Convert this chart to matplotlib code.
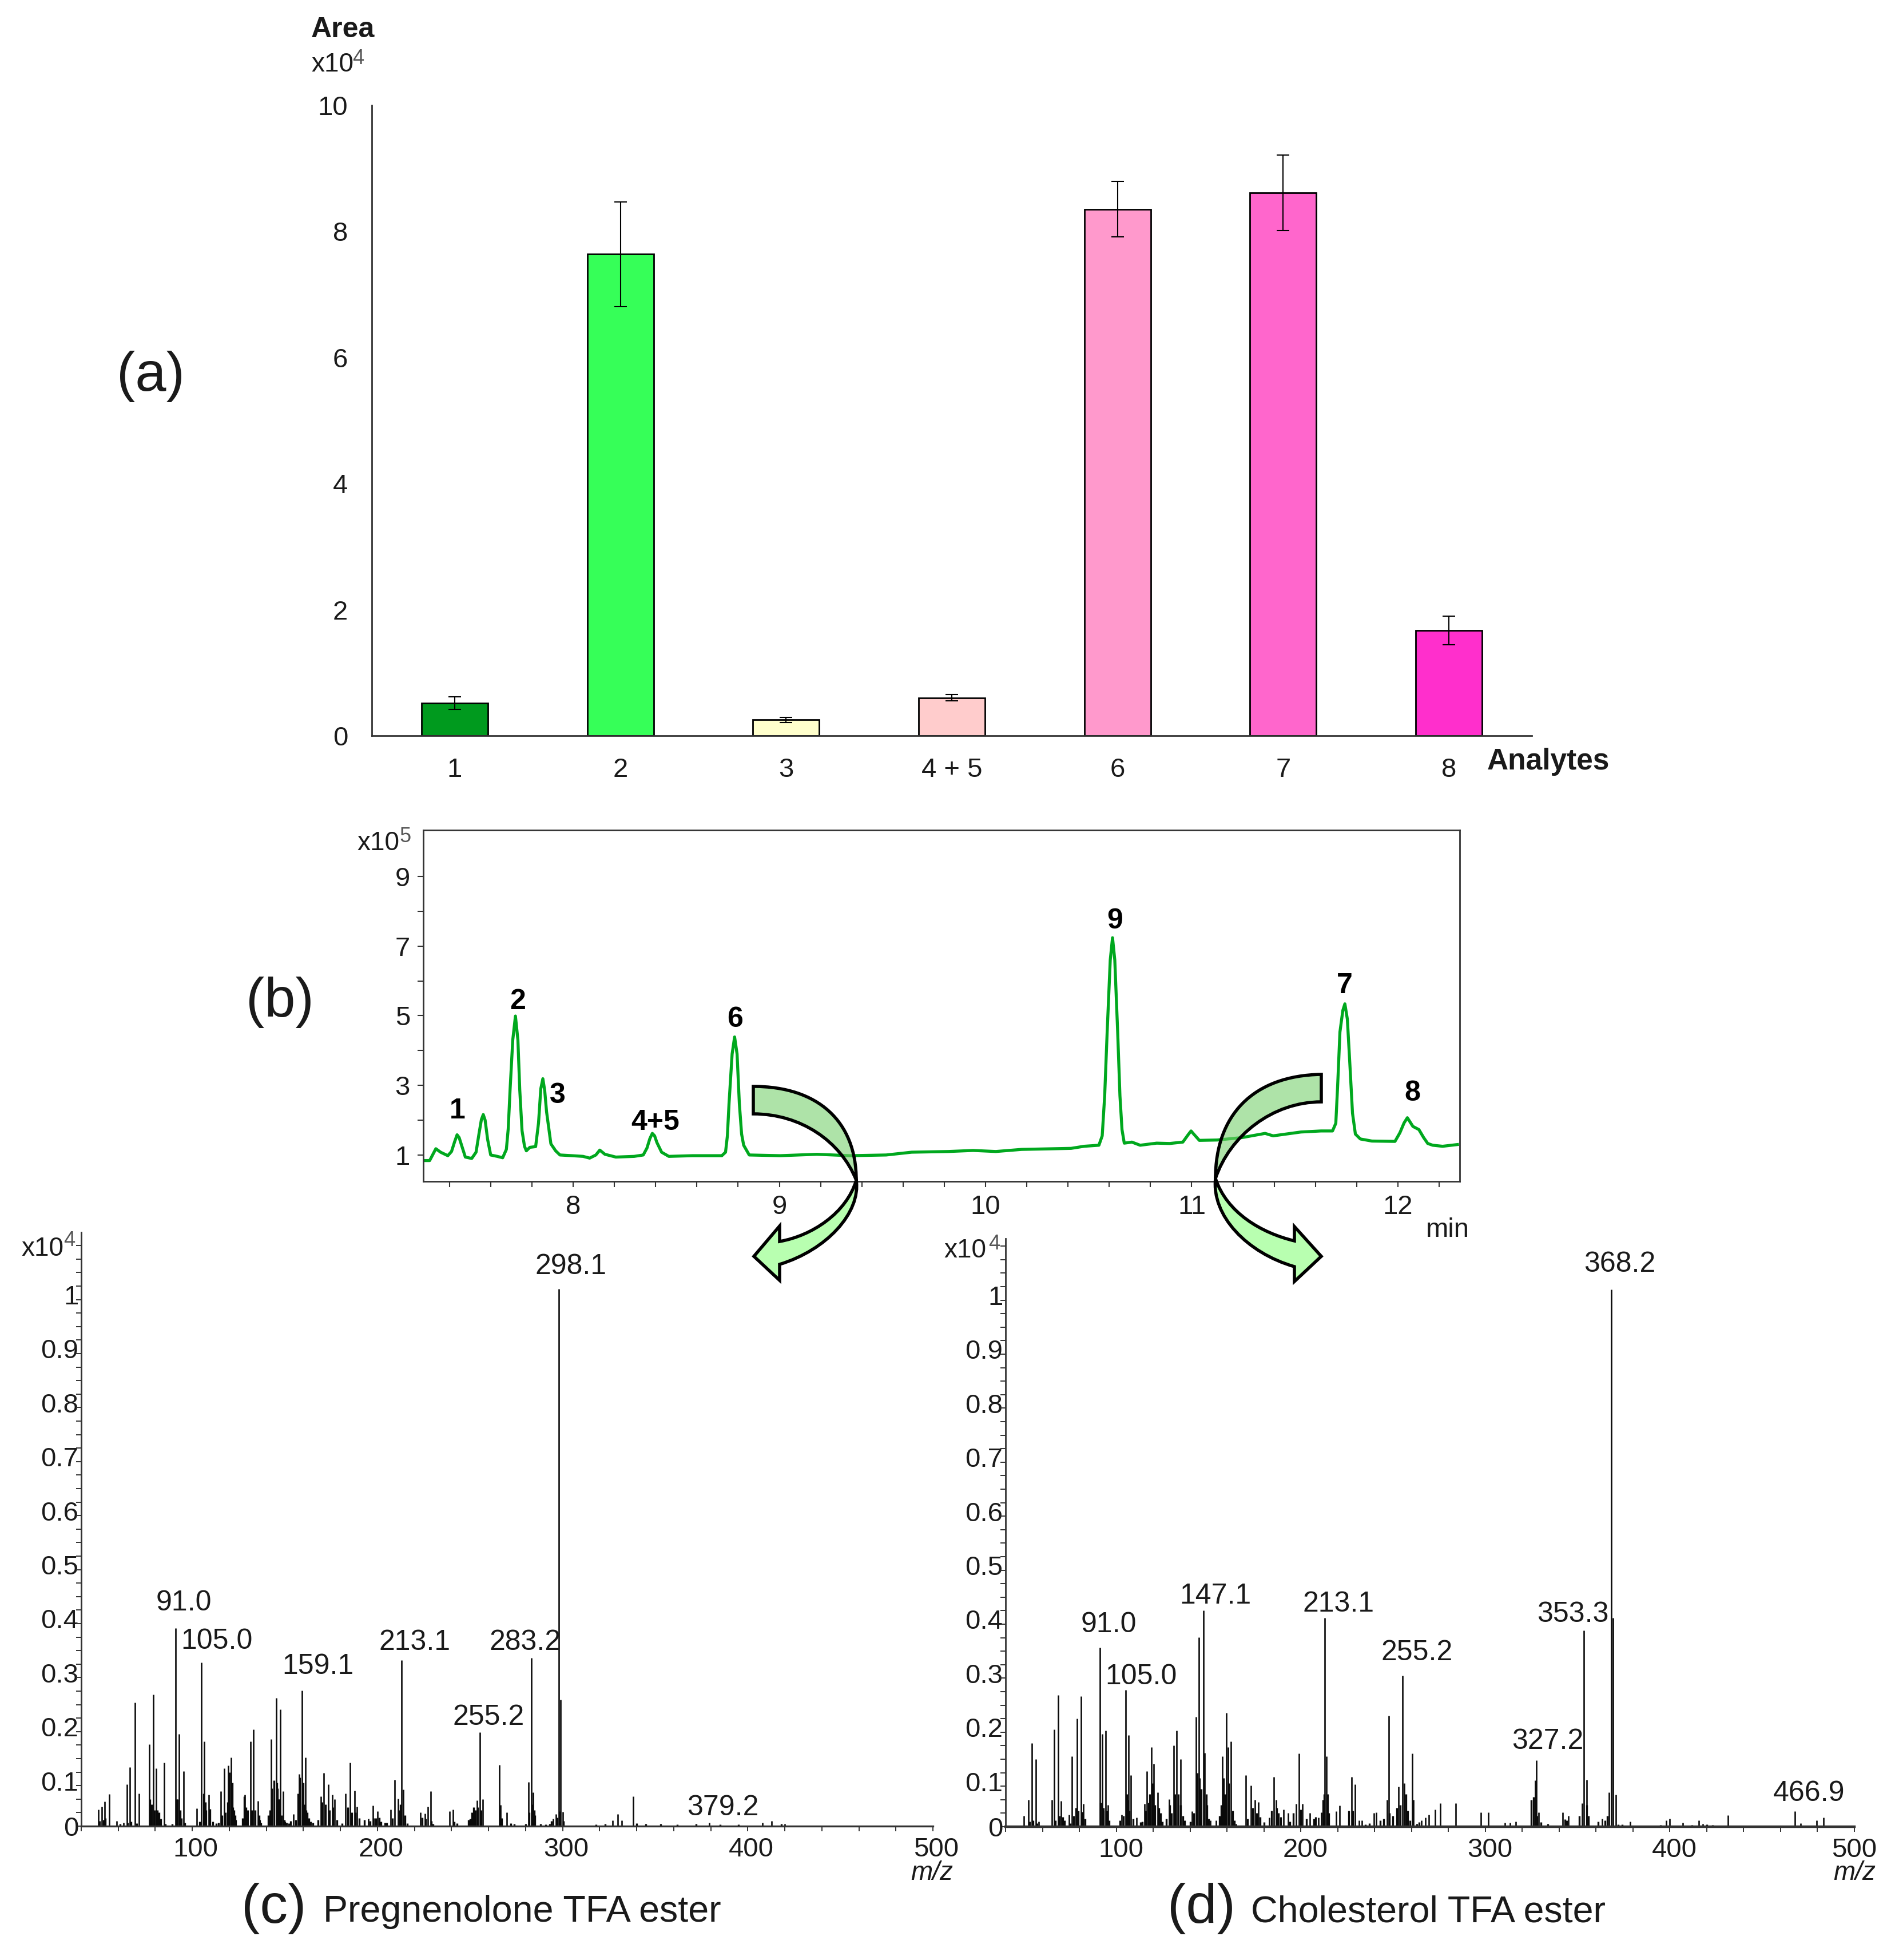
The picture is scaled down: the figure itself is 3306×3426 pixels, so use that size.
import numpy as np
import matplotlib
matplotlib.use("Agg")
import matplotlib.pyplot as plt
from matplotlib.path import Path
from matplotlib.patches import PathPatch
from matplotlib.transforms import ScaledTranslation

plt.rcParams["font.family"] = ["Liberation Sans", "DejaVu Sans"]

W, H = 3306, 3426

# (a) peak areas
analytes = ["1", "2", "3", "4 + 5", "6", "7", "8"]
areas = [0.52, 7.64, 0.25, 0.60, 8.35, 8.61, 1.67]
area_err = [0.10, 0.83, 0.04, 0.05, 0.44, 0.60, 0.23]
bar_colors = ["#009A1E", "#36FF58", "#FFFFCC", "#FFCCCC", "#FF99CC", "#FF66CC", "#FF2FCC"]

# (b) chromatogram
rt = [7.277, 7.304, 7.32, 7.334, 7.357, 7.392, 7.41, 7.425, 7.437, 7.447, 7.462, 7.477, 7.508, 7.529,
      7.543, 7.555, 7.564, 7.573, 7.585, 7.6, 7.632, 7.658, 7.676, 7.685, 7.694, 7.707, 7.72, 7.732,
      7.741, 7.752, 7.764, 7.773, 7.79, 7.818, 7.832, 7.843, 7.853, 7.862, 7.871, 7.892, 7.915, 7.936,
      7.995, 8.048, 8.08, 8.11, 8.129, 8.154, 8.207, 8.296, 8.34, 8.358, 8.372, 8.384, 8.395, 8.406,
      8.429, 8.464, 8.579, 8.721, 8.739, 8.748, 8.756, 8.771, 8.783, 8.795, 8.806, 8.817, 8.827, 8.854,
      9.004, 9.182, 9.341, 9.518, 9.642, 9.819, 9.94, 10.05, 10.175, 10.415, 10.478, 10.55, 10.566,
      10.578, 10.59, 10.605, 10.616, 10.627, 10.641, 10.652, 10.662, 10.673, 10.71, 10.75, 10.83, 10.893,
      10.957, 10.985, 10.997, 11.01, 11.037, 11.124, 11.244, 11.356, 11.395, 11.53, 11.627, 11.683,
      11.699, 11.708, 11.719, 11.733, 11.743, 11.755, 11.767, 11.78, 11.794, 11.818, 11.874, 11.986,
      12.01, 12.03, 12.046, 12.073, 12.102, 12.125, 12.145, 12.169, 12.217, 12.289]
signal = [0.84, 0.84, 1.02, 1.18, 1.08, 0.98, 1.10, 1.38, 1.58, 1.50, 1.22, 0.94, 0.90, 1.08,
          1.60, 2.02, 2.16, 2.00, 1.45, 1.00, 0.96, 0.92, 1.16, 1.75, 2.87, 4.30, 4.99, 4.30,
          2.87, 1.70, 1.25, 1.12, 1.22, 1.24, 1.92, 2.90, 3.19, 2.85, 2.24, 1.32, 1.12, 1.00,
          0.98, 0.96, 0.91, 1.00, 1.14, 1.02, 0.94, 0.96, 1.00, 1.20, 1.47, 1.62, 1.55, 1.36,
          1.08, 0.96, 0.98, 0.98, 1.08, 1.55, 2.48, 3.90, 4.39, 3.90, 2.48, 1.60, 1.28, 1.00,
          0.98, 1.02, 0.98, 1.00, 1.08, 1.10, 1.13, 1.10, 1.16, 1.19, 1.25, 1.28, 1.55,
          2.70, 4.53, 6.60, 7.24, 6.60, 4.53, 2.70, 1.73, 1.34, 1.37, 1.28, 1.34, 1.33,
          1.37, 1.60, 1.69, 1.60, 1.42, 1.43, 1.50, 1.62, 1.55, 1.66, 1.69, 1.69,
          1.91, 3.00, 4.53, 5.15, 5.34, 4.90, 3.63, 2.20, 1.60, 1.46, 1.40, 1.39,
          1.64, 1.92, 2.07, 1.82, 1.73, 1.50, 1.33, 1.28, 1.25, 1.30]
peak_names = ["1", "2", "3", "4+5", "6", "9", "7", "8"]

# (c) Pregnenolone TFA ester spectrum
c_mz = [49.3, 51, 52.6, 55.2, 59.3, 63, 64.7, 66.2, 68.9, 71.2, 76.9, 79, 80.6, 84.7, 91, 92.9, 95.3, 102.5,
        105, 106.5, 108.8, 115.3, 117.2, 119.4, 120.9, 128.5, 131.5, 133, 135.4, 142.6, 145.2, 147.6, 149.1,
        154.5, 157.8, 159.1, 161, 169.3, 171, 173.4, 175.6, 177, 182.7, 185.3, 187.7, 189, 195, 197.5, 200,
        207, 209.4, 211, 213.1, 214, 223.3, 225.7, 227.2, 228.7, 239, 240.9, 253.7, 255.2, 257, 265.8, 266.5,
        270, 281.6, 283.2, 284.2, 295, 296.5, 298.1, 299, 300, 327, 329.8, 332, 338, 379.2, 408, 413, 420]
c_int = [0.031, 0.036, 0.046, 0.059, 0.010, 0.006, 0.077, 0.109, 0.229, 0.060, 0.151, 0.244, 0.107, 0.118, 0.367,
         0.171, 0.102, 0.033, 0.303, 0.157, 0.058, 0.065, 0.107, 0.112, 0.127, 0.058, 0.157, 0.179, 0.047, 0.161,
         0.237, 0.216, 0.065, 0.022, 0.096, 0.251, 0.127, 0.055, 0.099, 0.077, 0.058, 0.050, 0.060, 0.118, 0.066,
         0.036, 0.014, 0.038, 0.028, 0.031, 0.086, 0.051, 0.307, 0.068, 0.025, 0.023, 0.036, 0.065, 0.028, 0.031,
         0.048, 0.174, 0.050, 0.113, 0.039, 0.025, 0.082, 0.311, 0.063, 0.014, 0.022, 0.995, 0.234, 0.026, 0.011,
         0.022, 0.011, 0.055, 0.006, 0.006, 0.010, 0.004]
c_low_mz = [50, 52, 53, 61, 65, 67, 70, 77, 78, 79.6, 81, 82, 83, 85.5, 89, 91.6, 92, 93.5, 94, 96, 104, 106, 107,
            107.5, 109.5, 111, 113, 114, 116, 118, 119, 120, 121.5, 122, 122.5, 123, 123.5, 127, 128, 129, 130, 132,
            134, 136, 136.5, 137, 141, 142, 143, 144, 145.8, 146, 146.5, 147, 148, 149.6, 150, 151, 152, 153, 156,
            157, 158, 159.7, 160, 160.5, 161.5, 162, 163, 164, 165, 168, 170, 172, 174, 176, 178, 181, 184, 186,
            188, 190, 193, 196, 198, 199, 201, 202, 204, 205, 208, 212, 212.5, 215, 216, 224, 226, 229, 230, 241.5,
            243, 249, 250, 251, 252, 253, 254, 256, 266, 267, 272, 274, 280, 282, 283.8, 284.8, 285, 288, 291, 293,
            294, 297, 298.6, 300.5, 318, 323, 340, 345, 353, 362, 372, 385, 395, 418]
c_low_int = [0.010, 0.012, 0.015, 0.004, 0.006, 0.008, 0.005, 0.050, 0.040, 0.030, 0.030, 0.025, 0.014, 0.004, 0.004,
             0.050, 0.050, 0.030, 0.015, 0.006, 0.008, 0.060, 0.045, 0.030, 0.032, 0.008, 0.005, 0.006, 0.020, 0.025,
             0.045, 0.100, 0.080, 0.035, 0.030, 0.020, 0.012, 0.015, 0.055, 0.035, 0.030, 0.030, 0.030, 0.020, 0.012,
             0.006, 0.020, 0.030, 0.070, 0.085, 0.080, 0.070, 0.050, 0.050, 0.020, 0.012, 0.008, 0.006, 0.005, 0.010,
             0.012, 0.060, 0.090, 0.045, 0.080, 0.040, 0.030, 0.025, 0.015, 0.008, 0.006, 0.012, 0.045, 0.040, 0.030,
             0.035, 0.012, 0.005, 0.035, 0.025, 0.025, 0.015, 0.012, 0.010, 0.015, 0.015, 0.016, 0.008, 0.006, 0.006,
             0.015, 0.030, 0.040, 0.020, 0.005, 0.016, 0.014, 0.010, 0.004, 0.008, 0.005, 0.012, 0.014, 0.025, 0.035,
             0.030, 0.035, 0.030, 0.030, 0.015, 0.005, 0.004, 0.004, 0.025, 0.040, 0.030, 0.020, 0.004, 0.003, 0.004,
             0.010, 0.016, 0.028, 0.010, 0.003, 0.004, 0.005, 0.004, 0.004, 0.003, 0.004, 0.003, 0.003, 0.004]
c_labels = [("91.0", 321, 2798), ("105.0", 379, 2865), ("159.1", 556, 2909), ("213.1", 725, 2867),
            ("283.2", 918, 2867), ("255.2", 854, 2998), ("298.1", 998, 2210), ("379.2", 1264, 3156)]

# (d) Cholesterol TFA ester spectrum
d_mz = [50, 52.3, 54.2, 56.4, 58, 65, 66.3, 68.5, 70, 74.5, 76.1, 78.7, 80.9, 82.2, 91, 92.4, 94.3, 95.5, 103,
        105, 106.7, 108, 111, 115.3, 116.5, 119, 120.4, 122.6, 128.6, 131.2, 132.8, 134.7, 141, 143.3, 144.9,
        147.1, 148, 151, 154, 157.6, 159.5, 160.5, 162, 165, 170.3, 172.9, 175, 177, 183, 185.3, 186.5, 190.7,
        193, 197.4, 199, 201, 205, 209.5, 211, 213.1, 213.8, 219.3, 221, 227.6, 229.5, 231.5, 233, 239.7, 241,
        246.7, 247.6, 253, 255.2, 256, 260.4, 261, 265.5, 267.5, 269.5, 272.8, 275.6, 283.9, 297.6, 301.7, 310.5,
        313.5, 316.5, 326.9, 327.5, 329, 342, 345, 352.3, 353.5, 354.8, 363.4, 367, 368.2, 369.2, 370.8, 378.4,
        398, 400, 407, 415.6, 418, 431.5, 467.8, 471, 479.5, 483.4]
d_int = [0.020, 0.050, 0.155, 0.125, 0.010, 0.050, 0.180, 0.244, 0.048, 0.022, 0.130, 0.200, 0.241, 0.042, 0.332,
         0.172, 0.178, 0.040, 0.022, 0.253, 0.169, 0.095, 0.017, 0.042, 0.103, 0.147, 0.116, 0.064, 0.051, 0.150,
         0.178, 0.125, 0.029, 0.203, 0.351, 0.400, 0.137, 0.012, 0.012, 0.130, 0.211, 0.147, 0.158, 0.005, 0.095,
         0.076, 0.050, 0.046, 0.017, 0.092, 0.050, 0.032, 0.025, 0.042, 0.136, 0.042, 0.025, 0.017, 0.027, 0.387,
         0.130, 0.029, 0.039, 0.092, 0.078, 0.012, 0.012, 0.025, 0.027, 0.050, 0.205, 0.074, 0.280, 0.080, 0.136,
         0.050, 0.012, 0.017, 0.022, 0.032, 0.043, 0.043, 0.026, 0.026, 0.007, 0.007, 0.010, 0.086, 0.123, 0.026,
         0.026, 0.020, 0.043, 0.363, 0.087, 0.015, 0.064, 0.995, 0.387, 0.059, 0.010, 0.012, 0.015, 0.007, 0.012,
         0.005, 0.021, 0.029, 0.006, 0.012, 0.017]
d_low_mz = [53, 55, 57, 67, 69, 71, 72, 75, 77, 78, 79.5, 81.5, 83, 91.6, 92.9, 93, 95, 96, 102, 104, 105.6, 106, 107,
            109, 113, 114, 116, 117.5, 118, 119.7, 121, 123, 124, 125, 127, 129, 130, 131.8, 133.5, 135, 136, 137,
            140, 142, 143.8, 145, 146, 148.7, 149, 150, 156, 157, 158, 159, 161, 163, 164, 171, 174, 176, 178, 180,
            184, 187, 188, 189, 194, 196, 200, 203, 207, 208, 212, 212.5, 214.5, 215, 226, 228, 235, 237, 243, 245,
            248, 250, 252, 254, 257, 258, 259, 263, 264, 325, 326, 328, 330, 334, 343, 344, 351, 355, 356, 361, 365,
            366, 372, 374, 395, 412, 420, 423]
d_low_int = [0.010, 0.012, 0.006, 0.012, 0.020, 0.018, 0.012, 0.006, 0.020, 0.035, 0.030, 0.028, 0.015, 0.045, 0.030,
             0.035, 0.030, 0.012, 0.012, 0.020, 0.060, 0.050, 0.030, 0.015, 0.008, 0.010, 0.030, 0.045, 0.060, 0.080,
             0.040, 0.035, 0.025, 0.010, 0.015, 0.040, 0.025, 0.060, 0.060, 0.040, 0.020, 0.012, 0.010, 0.025, 0.100,
             0.090, 0.070, 0.060, 0.040, 0.015, 0.020, 0.040, 0.090, 0.060, 0.080, 0.030, 0.012, 0.015, 0.035, 0.025,
             0.018, 0.008, 0.030, 0.035, 0.025, 0.018, 0.010, 0.025, 0.032, 0.015, 0.015, 0.018, 0.050, 0.060, 0.060,
             0.025, 0.030, 0.030, 0.004, 0.006, 0.012, 0.015, 0.025, 0.020, 0.035, 0.040, 0.060, 0.030, 0.012, 0.005,
             0.008, 0.050, 0.055, 0.020, 0.008, 0.005, 0.014, 0.012, 0.020, 0.040, 0.020, 0.010, 0.012, 0.020, 0.004,
             0.004, 0.003, 0.003, 0.004, 0.003]
d_labels = [("91.0", 1938, 2836), ("105.0", 1995, 2927), ("147.1", 2125, 2786), ("213.1", 2340, 2800),
            ("255.2", 2477, 2885), ("353.3", 2750, 2818), ("327.2", 2706, 3040), ("466.9", 3163, 3131),
            ("368.2", 2832, 2206)]


def add_ax(left, top, right, bottom):
    return fig.add_axes([left / W, 1 - bottom / H, (right - left) / W, (bottom - top) / H])


def put(x, y, s, **kw):
    kw.setdefault("ha", "center")
    kw.setdefault("va", "center")
    kw.setdefault("color", "#1a1a1a")
    # va=center sits a little high with this font
    fig.text(x / W, 1 - (y + 4) / H, s, **kw)


def times_ten(x, y, exp, sup_dx, sup_dy):
    put(x, y, "x10", ha="left", fontsize=33)
    put(x + sup_dx, y + sup_dy, exp, ha="left", fontsize=26, color="#555555")


def spectrum(ax, mz, inten, low_mz, low_int, ymax, left_lab_dy, x_lab_dx, base_lw):
    ax.vlines(low_mz, 0, low_int, color="#0a0a0a", lw=2.4)
    ax.vlines(mz, 0, inten, color="#0a0a0a", lw=1.9)
    ax.set_xlim(40, 500)
    ax.set_ylim(0, ymax)
    ax.set_xticks(np.arange(100, 501, 100))
    ax.set_xticks(np.arange(40, 500, 20), minor=True)
    ax.set_yticks(np.arange(0, 1.01, 0.1))
    ax.set_yticklabels(["0", "0.1", "0.2", "0.3", "0.4", "0.5", "0.6", "0.7", "0.8", "0.9", "1"])
    ax.set_yticks(np.arange(0, 1.09, 0.025), minor=True)
    for s in ("top", "right"):
        ax.spines[s].set_visible(False)
    ax.spines["left"].set_linewidth(2.0)
    ax.spines["bottom"].set_linewidth(base_lw)
    for s in ("left", "bottom"):
        ax.spines[s].set_color("#333333")
    ax.tick_params(axis="both", which="both", length=6.5, width=1.4, color="#333333", labelcolor="#1a1a1a")
    ax.tick_params(axis="x", which="major", labelsize=34, pad=7)
    ax.tick_params(axis="y", which="major", labelsize=34, pad=-3)
    # the labels in the source figure sit off their ticks
    down = ScaledTranslation(0, -left_lab_dy / 100, fig.dpi_scale_trans)
    for lab in ax.get_yticklabels()[1:]:
        lab.set_transform(lab.get_transform() + down)
    for lab, dx in zip(ax.get_xticklabels(), x_lab_dx):
        lab.set_transform(lab.get_transform() + ScaledTranslation(dx / 100, 0, fig.dpi_scale_trans))


def curved_arrow(p):
    # top half of the bent arrow, then the bottom half with its head
    top = [p["o0"], p["oc1"], p["oc2"], p["pinch"], p["ic2"], p["ic1"], p["i0"], p["o0"]]
    top_codes = [Path.MOVETO, Path.CURVE4, Path.CURVE4, Path.CURVE4, Path.CURVE4, Path.CURVE4, Path.CURVE4,
                 Path.CLOSEPOLY]
    low = [p["pinch"], p["lo1"], p["lo2"], p["lo3"], p["barb2"], p["tip"], p["barb1"], p["li0"],
           p["li1"], p["li2"], p["pinch"], p["pinch"]]
    low_codes = [Path.MOVETO, Path.CURVE4, Path.CURVE4, Path.CURVE4, Path.LINETO, Path.LINETO, Path.LINETO,
                 Path.LINETO, Path.CURVE4, Path.CURVE4, Path.CURVE4, Path.CLOSEPOLY]
    for verts, codes, fc in [(top, top_codes, (0.47, 0.82, 0.43, 0.6)), (low, low_codes, "#B8FFB0")]:
        pts = [(x / W, 1 - y / H) for x, y in verts]
        fig.add_artist(PathPatch(Path(pts, codes), facecolor=fc, edgecolor="black", lw=4.0,
                                 transform=fig.transFigure, joinstyle="miter"))


fig = plt.figure(figsize=(W / 100, H / 100), dpi=100, facecolor="white")

# --- (a) bars ---
ax_a = add_ax(650, 184, 2678, 1286)
xpos = np.arange(1, len(areas) + 1)
ax_a.bar(xpos, areas, width=0.4, color=bar_colors, edgecolor="black", linewidth=2.0)
ax_a.errorbar(xpos, areas, yerr=area_err, fmt="none", ecolor="black", elinewidth=1.5, capsize=8, capthick=1.5)
ax_a.set_xlim(0.5, 7.5)
ax_a.set_ylim(0, 10)
ax_a.set_yticks(np.arange(0, 11, 2))
ax_a.set_xticks(xpos)
ax_a.set_xticklabels(analytes)
for s in ("top", "right"):
    ax_a.spines[s].set_visible(False)
for s in ("left", "bottom"):
    ax_a.spines[s].set_linewidth(2.0)
    ax_a.spines[s].set_color("#333333")
ax_a.tick_params(axis="both", length=0, labelsize=34, labelcolor="#1a1a1a")
ax_a.tick_params(axis="x", pad=27)
ax_a.tick_params(axis="y", pad=30)
put(544, 48, "Area", ha="left", fontsize=36, fontweight="bold")
times_ten(544, 109, "4", 72, -11)
put(2600, 1327, "Analytes", ha="left", fontsize=37, fontweight="bold")

# --- (b) chromatogram ---
ax_b = add_ax(740, 1451, 2552, 2065)
ax_b.plot(rt, signal, color="#00A81E", lw=3.8, solid_joinstyle="round")
ax_b.set_xlim(7.273, 12.30)
ax_b.set_ylim(0.242, 10.33)
ax_b.set_xticks(np.arange(8, 13))
ax_b.set_xticks(np.arange(7.4, 12.3, 0.2), minor=True)
ax_b.set_yticks([1, 3, 5, 7, 9])
ax_b.set_yticks([2, 4, 6, 8], minor=True)
for s in ax_b.spines.values():
    s.set_linewidth(2.0)
    s.set_color("#333333")
ax_b.tick_params(axis="both", which="both", length=7.5, width=1.5, color="#333333", labelcolor="#1a1a1a")
ax_b.tick_params(axis="both", which="major", labelsize=34, pad=9)
times_ten(624, 1470, "5", 74, -11)
put(2531, 2146, "min", fontsize=34)
for name, (x, y) in zip(peak_names, [(800, 1938), (905, 1747), (975, 1911), (1146, 1958), (1285, 1778),
                                     (1949, 1606), (2351, 1719), (2469, 1907)]):
    put(x, y, name, fontsize=36, fontweight="bold", color="black")

# --- (c), (d) spectra ---
ax_c = add_ax(142, 2154, 1631, 3192)
spectrum(ax_c, c_mz, c_int, c_low_mz, c_low_int, (3192 - 2154) / 944, 15, [6, 6, 6, 6, 6], 2.4)
times_ten(37, 2179, "4", 74, -14)
for s, x, y in c_labels:
    put(x, y, s, fontsize=36)
put(1629, 3270, "m/z", fontsize=33, style="italic")

ax_d = add_ax(1758, 2165, 3242, 3193)
spectrum(ax_d, d_mz, d_int, d_low_mz, d_low_int, (3193 - 2165) / 944, 15, [8, 8, 8, 8, 0], 3.2)
times_ten(1650, 2182, "4", 78, -12)
for s, x, y in d_labels:
    put(x, y, s, fontsize=36)
put(3242, 3270, "m/z", fontsize=33, style="italic")

# --- panel letters ---
put(263, 654, "(a)", fontsize=70)
put(489, 1748, "(b)", fontsize=70)
put(479, 3332, "(c)", fontsize=70)
put(2100, 3332, "(d)", fontsize=70)
put(565, 3338, "Pregnenolone TFA ester", ha="left", fontsize=46.5)
put(2187, 3338, "Cholesterol TFA ester", ha="left", fontsize=46.5)

# --- arrows from the chromatogram down to the spectra ---
curved_arrow({"o0": (1317, 1899), "oc1": (1430, 1899), "oc2": (1497, 1960), "pinch": (1497, 2063),
              "ic2": (1470, 1995), "ic1": (1400, 1947), "i0": (1317, 1947),
              "lo1": (1505, 2120), "lo2": (1445, 2185), "lo3": (1363, 2210),
              "barb2": (1363, 2238), "tip": (1318, 2196), "barb1": (1363, 2143), "li0": (1363, 2170),
              "li1": (1420, 2160), "li2": (1480, 2120)})
curved_arrow({"o0": (2310, 1878), "oc1": (2190, 1880), "oc2": (2125, 1950), "pinch": (2125, 2060),
              "ic2": (2150, 1985), "ic1": (2225, 1926), "i0": (2310, 1926),
              "lo1": (2118, 2125), "lo2": (2180, 2190), "lo3": (2263, 2214),
              "barb2": (2263, 2240), "tip": (2310, 2196), "barb1": (2263, 2144), "li0": (2263, 2169),
              "li1": (2205, 2155), "li2": (2145, 2120)})

fig.savefig("out.png", dpi=100, facecolor="white")
